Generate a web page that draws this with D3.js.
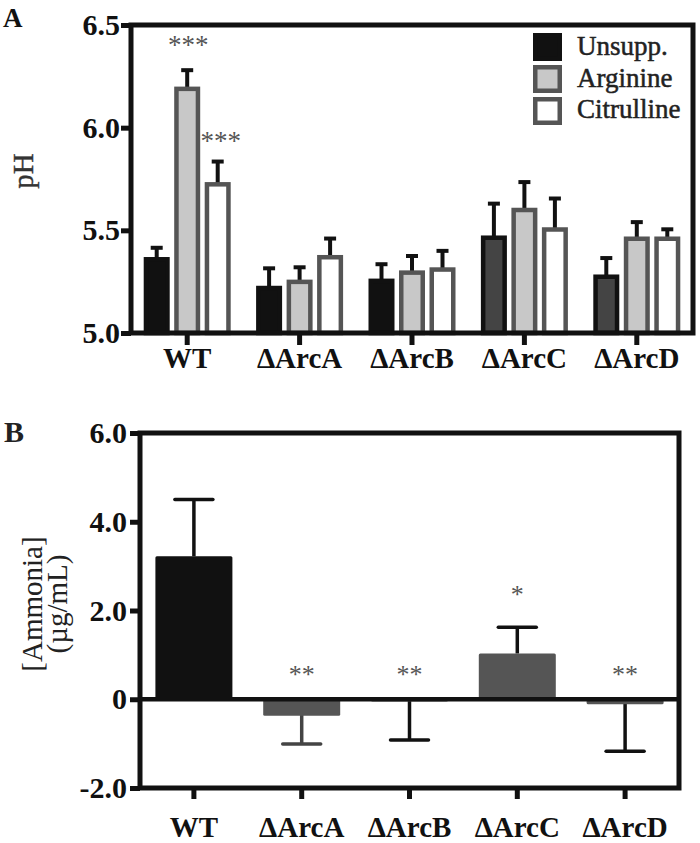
<!DOCTYPE html>
<html><head><meta charset="utf-8">
<script src="https://cdn.jsdelivr.net/npm/d3@7"></script>
<style>
html,body{margin:0;padding:0;background:#fff;}
svg{display:block;font-family:"Liberation Serif","Times New Roman",serif;}
</style></head>
<body>
<svg id="chart" width="700" height="843"></svg>
<script>
// ---------- DATA ----------
const strains = ["WT", "ΔArcA", "ΔArcB", "ΔArcC", "ΔArcD"];
const seriesA = ["Unsupp.", "Arginine", "Citrulline"];
const unsupp        = [5.37, 5.23, 5.265, 5.475, 5.285];
const unsuppErr     = [0.045, 0.085, 0.07, 0.155, 0.08];
const arginine      = [6.20, 5.26, 5.305, 5.61, 5.47];
const arginineErr   = [0.08, 0.06, 0.07, 0.125, 0.07];
const citrulline    = [5.735, 5.38, 5.32, 5.515, 5.47];
const citrullineErr = [0.10, 0.08, 0.08, 0.14, 0.035];
const starsArginine   = ["***", "", "", "", ""];
const starsCitrulline = ["***", "", "", "", ""];
const pHTicks = [5.0, 5.5, 6.0, 6.5];

const ammonia    = [3.22, -0.35, -0.03, 1.03, -0.09];
const ammoniaErr = [1.28, 0.66, 0.89, 0.59, 1.08];
const starsAmmonia = ["", "**", "**", "*", "**"];
const ammoniaTicks = [-2.0, 0, 2.0, 4.0, 6.0];

// ---------- STYLE ----------
const INK = "#111";
const unsuppFill = ["#111", "#111", "#111", "#444", "#444"];
const seriesFill = {"Unsupp.": "#111", "Arginine": "#c8c8c8", "Citrulline": "#ffffff"};
const seriesStroke = {"Unsupp.": "#111", "Arginine": "#555", "Citrulline": "#555"};
const ammoniaFill = ["#111", "#555", "#555", "#555", "#555"];
const ammoniaErrColor = ["#111", "#444", "#111", "#111", "#111"];

const svg = d3.select("#chart");
const fmt1 = d => d3.format(".1f")(d).replace("\u2212", "-");

// ================= PANEL A =================
const A = {left: 131, right: 693, top: 25, bottom: 333};
const yA = d3.scaleLinear().domain([5.0, 6.5]).range([A.bottom, A.top]);
const xA = d3.scaleBand().domain(strains).range([A.left, A.right]);
const xSub = d3.scaleBand().domain(seriesA).range([-45.75, 45.75]);
const barW = 26, sw = 4.5;

const valsA = {"Unsupp.": unsupp, "Arginine": arginine, "Citrulline": citrulline};
const errsA = {"Unsupp.": unsuppErr, "Arginine": arginineErr, "Citrulline": citrullineErr};
const starsA = {"Unsupp.": ["", "", "", "", ""], "Arginine": starsArginine, "Citrulline": starsCitrulline};

const gA = svg.append("g");
const recordsA = [];
seriesA.forEach(s => strains.forEach((st, i) => recordsA.push({s, st, i, v: valsA[s][i], e: errsA[s][i], star: starsA[s][i]})));
const cx = d => xA(d.st) + xA.bandwidth() / 2 + xSub(d.s) + xSub.bandwidth() / 2;

// error bars (upward)
gA.selectAll("g.errA").data(recordsA).join("g").attr("class", "errA").each(function(d) {
  const g = d3.select(this), x = cx(d);
  g.append("line").attr("x1", x).attr("x2", x).attr("y1", yA(d.v) + 2).attr("y2", yA(d.v + d.e))
    .attr("stroke", INK).attr("stroke-width", 4);
  g.append("line").attr("x1", x - 6).attr("x2", x + 6).attr("y1", yA(d.v + d.e)).attr("y2", yA(d.v + d.e))
    .attr("stroke", INK).attr("stroke-width", 4);
});
// bars
gA.selectAll("rect.barA").data(recordsA).join("rect").attr("class", "barA")
  .attr("x", d => cx(d) - barW / 2 + sw / 2)
  .attr("width", barW - sw)
  .attr("y", d => yA(d.v) + sw / 2)
  .attr("height", d => yA(5.0) - yA(d.v) - sw / 2)
  .attr("fill", d => d.s === "Unsupp." ? unsuppFill[d.i] : seriesFill[d.s])
  .attr("stroke", d => seriesStroke[d.s])
  .attr("stroke-width", sw);
// stars
gA.selectAll("text.starA").data(recordsA.filter(d => d.star)).join("text").attr("class", "starA")
  .attr("x", d => cx(d) + (d.s === "Citrulline" ? 3 : 1))
  .attr("y", d => yA(d.v + d.e) - (d.s === "Citrulline" ? 12 : 16))
  .attr("text-anchor", "middle").attr("font-size", 27).attr("fill", "#555")
  .text(d => d.star);

// axes A
const axLA = gA.append("g").attr("transform", `translate(${A.left},0)`)
  .call(d3.axisLeft(yA).tickValues(pHTicks).tickSize(10).tickPadding(1).tickFormat(fmt1));
axLA.select(".domain").remove();
axLA.selectAll(".tick line").attr("stroke", INK).attr("stroke-width", 5);
axLA.selectAll(".tick text").attr("font-size", 30).attr("font-weight", "bold").attr("fill", INK)
  .attr("font-family", "Liberation Serif");
const axBA = gA.append("g").attr("transform", `translate(0,${A.bottom})`)
  .call(d3.axisBottom(xA).tickSize(12).tickFormat(""));
axBA.select(".domain").remove();
axBA.selectAll(".tick line").attr("stroke", INK).attr("stroke-width", 5);
gA.selectAll("text.xlabA").data(strains).join("text").attr("class", "xlabA")
  .attr("x", d => xA(d) + xA.bandwidth() / 2).attr("y", 368)
  .attr("text-anchor", "middle").attr("font-size", 29).attr("font-weight", "bold").attr("fill", INK)
  .text(d => d);
gA.append("path").attr("d", `M${A.left},${A.bottom}V${A.top}H${A.right}V${A.bottom}H${A.left}`)
  .attr("fill", "none").attr("stroke", INK).attr("stroke-width", 5).attr("stroke-linejoin", "miter");

// legend
const leg = gA.append("g");
seriesA.forEach((s, i) => {
  leg.append("rect").attr("x", 533 + sw / 2).attr("y", 33 + i * 32 + sw / 2)
    .attr("width", 29 - sw).attr("height", 28 - sw)
    .attr("fill", seriesFill[s]).attr("stroke", seriesStroke[s]).attr("stroke-width", sw);
  leg.append("text").attr("x", 577).attr("y", 55 + i * 31.5)
    .attr("font-size", 27).attr("fill", "#222").attr("stroke", "#222").attr("stroke-width", 0.5)
    .text(s);
});
// labels
svg.append("text").attr("transform", "translate(33,171) rotate(-90)").attr("text-anchor", "middle")
  .attr("font-size", 29).attr("fill", "#333").attr("stroke", "#333").attr("stroke-width", 0.4).text("pH");
svg.append("text").attr("x", 3).attr("y", 27).attr("font-size", 27).attr("font-weight", "bold").attr("fill", INK).text("A");

// ================= PANEL B =================
const B = {left: 140, right: 679, top: 433, bottom: 788};
const yB = d3.scaleLinear().domain([-2, 6]).range([B.bottom, B.top]);
const xB = d3.scaleBand().domain(strains).range([B.left, B.right]);
const barWB = 77;
const gB = svg.append("g");
const recB = strains.map((st, i) => ({st, i, v: ammonia[i], e: ammoniaErr[i], star: starsAmmonia[i]}));
const cxB = d => xB(d.st) + xB.bandwidth() / 2;

gB.selectAll("g.errB").data(recB).join("g").attr("class", "errB").each(function(d) {
  const g = d3.select(this), x = cxB(d);
  const end = d.v >= 0 ? d.v + d.e : d.v - d.e;
  g.append("line").attr("x1", x).attr("x2", x).attr("y1", yB(d.v)).attr("y2", yB(end))
    .attr("stroke", ammoniaErrColor[d.i]).attr("stroke-width", 3.5);
  g.append("line").attr("x1", x - 19).attr("x2", x + 19).attr("y1", yB(end)).attr("y2", yB(end))
    .attr("stroke", ammoniaErrColor[d.i]).attr("stroke-width", 3.5).attr("stroke-linecap", "round");
});
gB.selectAll("rect.barB").data(recB).join("rect").attr("class", "barB")
  .attr("x", d => cxB(d) - barWB / 2).attr("width", barWB)
  .attr("y", d => yB(Math.max(0, d.v)))
  .attr("height", d => Math.abs(yB(d.v) - yB(0)) + 1)
  .attr("rx", 1.5)
  .attr("fill", d => ammoniaFill[d.i]);
gB.selectAll("text.starB").data(recB.filter(d => d.star)).join("text").attr("class", "starB")
  .attr("x", d => cxB(d)).attr("y", d => (d.v > 0 ? yB(d.v + d.e) - 24 : yB(0) - 16))
  .attr("text-anchor", "middle").attr("font-size", 26).attr("fill", "#555")
  .text(d => d.star);

const axLB = gB.append("g").attr("transform", `translate(${B.left},0)`)
  .call(d3.axisLeft(yB).tickValues(ammoniaTicks).tickSize(10).tickPadding(3)
    .tickFormat(d => d === 0 ? "0" : fmt1(d)));
axLB.select(".domain").remove();
axLB.selectAll(".tick line").attr("stroke", INK).attr("stroke-width", 5);
axLB.selectAll(".tick text").attr("font-size", 30).attr("font-weight", "bold").attr("fill", INK)
  .attr("font-family", "Liberation Serif");
const axBB = gB.append("g").attr("transform", `translate(0,${B.bottom})`)
  .call(d3.axisBottom(xB).tickSize(11).tickFormat(""));
axBB.select(".domain").remove();
axBB.selectAll(".tick line").attr("stroke", INK).attr("stroke-width", 5);
gB.selectAll("text.xlabB").data(strains).join("text").attr("class", "xlabB")
  .attr("x", d => xB(d) + xB.bandwidth() / 2).attr("y", 837)
  .attr("text-anchor", "middle").attr("font-size", 29).attr("font-weight", "bold").attr("fill", INK)
  .text(d => d);
gB.append("line").attr("x1", B.left).attr("x2", B.right).attr("y1", yB(0)).attr("y2", yB(0))
  .attr("stroke", INK).attr("stroke-width", 4.5);
gB.append("path").attr("d", `M${B.left},${B.bottom}V${B.top}H${B.right}V${B.bottom}H${B.left}`)
  .attr("fill", "none").attr("stroke", INK).attr("stroke-width", 5);

svg.append("text").attr("transform", "translate(0,604) rotate(-90)").attr("text-anchor", "middle")
  .attr("font-size", 29).attr("fill", "#222")
  .selectAll("tspan").data(["[Ammonia]", "(µg/mL)"]).join("tspan")
  .attr("x", 0).attr("y", (d, i) => 42 + i * 25).text(d => d);
svg.append("text").attr("x", 4).attr("y", 442).attr("font-size", 30).attr("font-weight", "bold").attr("fill", "#222").text("B");
</script>
</body></html>
